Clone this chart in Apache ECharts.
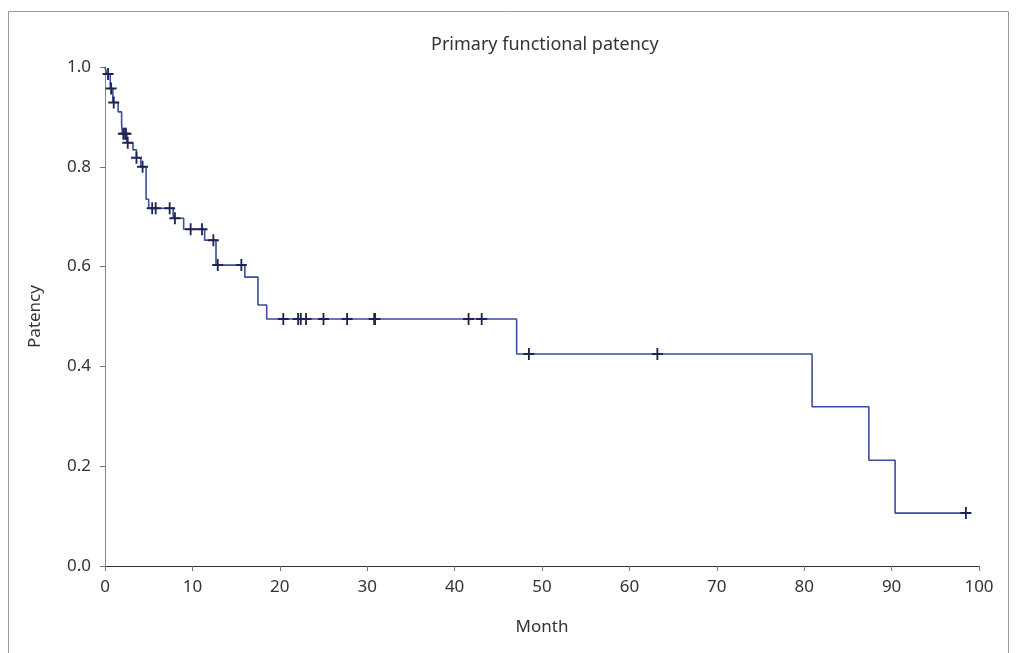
<!DOCTYPE html>
<html>
<head>
<meta charset="utf-8">
<script src="https://cdn.jsdelivr.net/npm/echarts@6/dist/echarts.min.js"></script>
<style>
  html, body { margin: 0; padding: 0; background: #fff; }
  #chart { width: 1019px; height: 653px; }
</style>
</head>
<body>
<div id="chart"></div>
<script>
// Kaplan-Meier steps: time of event (months) and patency after it
const stepTimes = [0, 0.2, 0.6, 0.9, 1.5, 1.9, 2.0, 2.5, 3.2, 3.6, 4.1, 4.7, 5.0, 7.8, 9.0, 11.4, 12.7, 16.0, 17.5, 18.5, 47.1, 80.9, 87.4, 90.4, 99.0];
const stepPatency = [1.0, 0.986, 0.957, 0.929, 0.91, 0.886, 0.866, 0.848, 0.834, 0.818, 0.80, 0.735, 0.717, 0.697, 0.675, 0.653, 0.603, 0.579, 0.523, 0.495, 0.425, 0.319, 0.212, 0.106, 0.106];
// censored observations (months)
const censorTimes = [0.35, 0.7, 1.0, 2.1, 2.3, 2.4, 2.6, 3.6, 4.3, 5.4, 5.8, 7.4, 8.0, 9.8, 11.1, 12.4, 12.9, 15.6,
    20.4, 22.1, 22.4, 23.0, 25.0, 27.7, 30.8, 30.9, 41.6, 43.1, 48.5, 63.2, 98.5];
const xTicks = { min: 0, max: 100, interval: 10 };
const yTicks = { min: 0, max: 1, interval: 0.2 };

function patencyAt(t) {
    let s = stepPatency[0];
    for (let i = 0; i < stepTimes.length; i++) {
        if (stepTimes[i] <= t) s = stepPatency[i];
    }
    return s;
}

const curve = stepTimes.map((t, i) => [t, stepPatency[i]]);
const censored = censorTimes.map(t => [t, patencyAt(t)]);

const font = '"Noto Sans", sans-serif';
const chart = echarts.init(document.getElementById('chart'));
chart.setOption({
    animation: false,
    backgroundColor: '#fff',
    title: {
        text: 'Primary functional patency',
        left: 426,
        top: 31,
        textStyle: { fontFamily: font, fontSize: 18, fontWeight: 'normal', color: '#333' }
    },
    graphic: [{
        type: 'rect',
        shape: { x: 8.5, y: 11.5, width: 1000, height: 700 },
        style: { fill: 'none', stroke: '#999', lineWidth: 1 },
        silent: true
    }],
    grid: { left: 105, right: 40, top: 67, bottom: 87 },
    xAxis: {
        type: 'value',
        min: xTicks.min, max: xTicks.max, interval: xTicks.interval,
        name: 'Month',
        nameLocation: 'middle',
        nameGap: 53,
        nameTextStyle: { fontFamily: font, fontSize: 17, color: '#333' },
        axisLine: { lineStyle: { color: '#333', width: 1 } },
        axisTick: { length: 5, lineStyle: { color: '#777' } },
        axisLabel: { fontFamily: font, fontSize: 17, color: '#333', margin: 13 },
        splitLine: { show: false }
    },
    yAxis: {
        type: 'value',
        min: yTicks.min, max: yTicks.max, interval: yTicks.interval,
        name: 'Patency',
        nameLocation: 'middle',
        nameGap: 61,
        nameTextStyle: { fontFamily: font, fontSize: 17, color: '#333' },
        axisLine: { show: true, lineStyle: { color: '#888', width: 1 } },
        axisTick: { show: true, length: 5, lineStyle: { color: '#777' } },
        axisLabel: { fontFamily: font, fontSize: 17, color: '#333', margin: 14, formatter: v => v.toFixed(1) },
        splitLine: { show: false }
    },
    series: [{
        type: 'line',
        step: 'end',
        data: curve,
        showSymbol: false,
        lineStyle: { color: '#3a4d9e', width: 1.6 },
        z: 2
    }, {
        type: 'scatter',
        data: censored,
        symbol: 'path://M5,0 H7 V5 H12 V7 H7 V12 H5 V7 H0 V5 H5 Z',
        symbolSize: [11, 12],
        itemStyle: { color: '#1d2452', opacity: 1 },
        z: 3
    }]
});
</script>
</body>
</html>
